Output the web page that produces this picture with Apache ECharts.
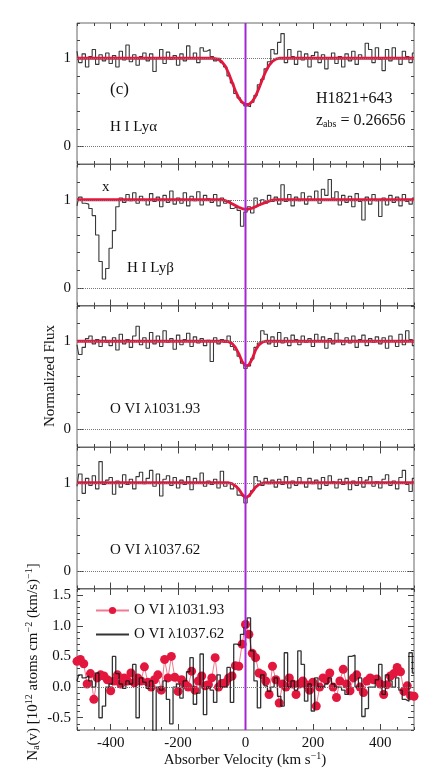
<!DOCTYPE html>
<html>
<head>
<meta charset="utf-8">
<script src="https://cdn.jsdelivr.net/npm/echarts@6/dist/echarts.min.js"></script>
<style>
  html, body { margin: 0; padding: 0; background: #fff; }
  #chart { width: 436px; height: 779px; }
</style>
</head>
<body>
<div id="chart"></div>
<script>
// velocity grid (km/s)
const velocity = [
  -500, -490, -480, -470, -460, -450, -440, -430, -420, -410,
  -400, -390, -380, -370, -360, -350, -340, -330, -320, -310,
  -300, -290, -280, -270, -260, -250, -240, -230, -220, -210,
  -200, -190, -180, -170, -160, -150, -140, -130, -120, -110,
  -100, -90, -80, -70, -60, -50, -40, -30, -20, -10,
  0, 10, 20, 30, 40, 50, 60, 70, 80, 90,
  100, 110, 120, 130, 140, 150, 160, 170, 180, 190,
  200, 210, 220, 230, 240, 250, 260, 270, 280, 290,
  300, 310, 320, 330, 340, 350, 360, 370, 380, 390,
  400, 410, 420, 430, 440, 450, 460, 470, 480, 490,
  500
]

// normalized flux, H I Lya
const fluxLya = [
  1.08, 0.95, 1.05, 0.90, 1.02, 1.10, 0.93, 1.04, 0.97, 1.06,
  0.94, 1.03, 0.90, 1.08, 0.98, 1.15, 0.96, 1.04, 0.92, 1.02,
  1.06, 0.97, 1.05, 0.85, 1.00, 1.10, 0.94, 1.07, 0.99, 1.03,
  0.92, 1.05, 0.97, 1.14, 1.00, 1.06, 0.95, 1.12, 1.08, 1.10,
  1.02, 0.97, 1.00, 0.95, 0.90, 0.80, 0.72, 0.60, 0.55, 0.50,
  0.46, 0.45, 0.50, 0.58, 0.70, 0.76, 0.88, 0.96, 1.10, 1.05,
  1.18, 1.28, 0.95, 1.10, 1.02, 0.93, 1.08, 0.98, 1.05, 0.90,
  1.03, 1.07, 0.95, 1.04, 0.88, 1.00, 1.06, 0.94, 1.02, 0.90,
  1.05, 0.97, 1.08, 0.93, 1.04, 1.00, 1.17, 1.10, 0.95, 1.12,
  0.99, 0.86, 1.10, 0.97, 1.12, 1.00, 0.93, 1.08, 1.02, 0.95,
  1.06
]

// normalized flux, H I Lyb
const fluxLyb = [
  0.93, 1.03, 0.96, 0.95, 0.90, 0.82, 0.60, 0.30, 0.10, 0.22,
  0.45, 0.65, 0.92, 1.02, 0.97, 1.06, 0.99, 1.08, 0.96, 1.04,
  1.00, 0.94, 1.07, 0.98, 1.03, 0.92, 1.05, 0.97, 1.10, 0.95,
  1.02, 0.96, 1.08, 0.93, 1.04, 0.99, 1.09, 0.94, 1.05, 1.01,
  0.97, 1.06, 0.93, 1.02, 0.96, 0.99, 0.90, 0.92, 0.88, 0.70,
  0.86, 0.92, 0.85, 1.02, 0.94, 1.00, 0.96, 1.05, 0.98, 1.03,
  0.95, 1.17, 0.98, 1.06, 0.93, 1.03, 0.99, 1.08, 0.95, 1.04,
  1.00, 1.10, 0.96, 1.12, 1.05, 1.23, 1.02, 1.09, 0.94, 1.05,
  0.97, 1.04, 0.92, 1.07, 0.98, 0.77, 1.03, 0.95, 1.06, 0.99,
  0.81, 1.02, 0.94, 1.05, 0.97, 1.03, 0.93, 1.06, 0.98, 0.95,
  1.02
]

// normalized flux, O VI 1031.93
const fluxO1031 = [
  0.96, 0.85, 0.93, 1.03, 1.06, 0.97, 1.02, 0.94, 1.05, 0.99,
  0.95, 1.04, 0.90, 1.08, 0.97, 1.02, 0.93, 1.06, 1.17, 0.96,
  1.04, 0.92, 1.10, 0.97, 1.06, 0.94, 1.12, 0.99, 1.03, 0.91,
  1.07, 0.96, 1.02, 1.09, 0.94, 1.05, 0.98, 1.03, 0.95, 1.01,
  0.77, 1.04, 0.97, 1.02, 0.99, 1.06, 0.94, 0.90, 0.83, 0.75,
  0.69, 0.72, 0.80, 0.93, 0.98, 1.12, 1.08, 0.97, 1.05, 0.94,
  1.10, 0.98, 1.04, 0.95, 1.07, 1.02, 0.96, 1.06, 0.99, 1.03,
  0.94, 1.08, 1.00, 1.05, 0.92, 1.03, 0.97, 1.09, 1.01, 0.96,
  1.04, 0.98, 1.06, 0.93, 1.02, 1.07, 0.95, 1.03, 0.99, 1.05,
  0.97, 1.04, 0.92, 1.06, 1.00, 0.94, 1.08, 0.96, 1.12, 1.02,
  0.95
]

// normalized flux, O VI 1037.62
const fluxO1037 = [
  0.96, 1.10, 0.88, 1.05, 0.97, 1.08, 0.93, 1.24, 0.98, 1.03,
  1.06, 0.87, 1.02, 0.95, 1.09, 0.98, 1.04, 0.93, 1.07, 1.12,
  0.99, 1.05, 1.14, 0.96, 1.10, 0.85, 1.04, 1.08, 0.97, 1.06,
  0.94, 1.03, 0.98, 1.07, 0.92, 1.05, 1.00, 1.11, 0.96, 1.02,
  0.98, 1.04, 0.94, 1.13, 0.96, 1.00, 0.93, 0.96, 0.86, 0.84,
  0.77, 0.85, 0.91, 1.07, 1.02, 0.97, 1.05, 0.99, 1.03, 0.95,
  1.04, 0.98, 1.07, 0.94, 1.02, 0.97, 1.06, 1.00, 0.95, 1.05,
  0.99, 1.03, 0.93, 1.06, 0.97, 1.08, 1.01, 0.94, 1.04, 0.98,
  1.05, 0.92, 1.02, 0.97, 1.06, 0.95, 1.03, 1.07, 0.96, 1.01,
  0.94, 1.04, 1.09, 0.97, 1.02, 0.93, 1.06, 1.14, 0.98, 0.90,
  1.05
]

// profile fits [velocity, flux]
const fitLya = [[-500, 1], [-100, 1], [-90, 0.995], [-80, 0.985], [-70, 0.96], [-60, 0.91], [-50, 0.83], [-40, 0.73], [-30, 0.63], [-20, 0.55], [-10, 0.5], [0, 0.475], [10, 0.475], [20, 0.51], [30, 0.57], [40, 0.66], [50, 0.76], [60, 0.85], [70, 0.92], [80, 0.965], [90, 0.99], [100, 1], [500, 1]]
const fitLyb = [[-500, 1], [-70, 1], [-60, 0.99], [-50, 0.975], [-40, 0.955], [-30, 0.935], [-20, 0.915], [-10, 0.9], [0, 0.89], [10, 0.895], [20, 0.905], [30, 0.92], [40, 0.94], [50, 0.955], [60, 0.97], [70, 0.985], [80, 0.995], [90, 1], [500, 1]]
const fitO1031 = [[-500, 1], [-60, 1], [-50, 0.995], [-40, 0.975], [-30, 0.93], [-20, 0.86], [-10, 0.77], [0, 0.72], [10, 0.73], [20, 0.8], [30, 0.9], [40, 0.96], [50, 0.99], [60, 1], [500, 1]]
const fitO1037 = [[-500, 1], [-50, 1], [-40, 0.99], [-30, 0.965], [-20, 0.93], [-10, 0.87], [0, 0.83], [10, 0.85], [20, 0.9], [30, 0.95], [40, 0.98], [50, 0.995], [60, 1], [500, 1]]

// apparent column density, 10^12 atoms cm^-2 (km/s)^-1
const naO1031 = [
  0.42, 0.45, 0.38, 0.05, 0.22, -0.20, 0.15, 0.20, 0.18, 0.12,
  -0.06, 0.10, 0.20, 0.05, 0.15, 0.10, 0.23, 0.07, 0.15, 0.10,
  0.33, 0.08, 0.00, 0.12, 0.20, -0.05, 0.45, 0.15, 0.50, 0.16,
  -0.07, 0.12, 0.05, 0.00, 0.26, -0.05, 0.10, 0.18, 0.02, 0.04,
  0.15, 0.48, 0.00, 0.06, 0.07, 0.15, 0.18, 0.35, 0.34, 0.70,
  1.02, 0.86, 0.55, 0.48, 0.23, 0.20, 0.10, -0.12, 0.34, 0.12,
  -0.26, 0.05, 0.00, 0.15, 0.05, -0.12, 0.05, 0.10, 0.04, -0.05,
  0.08, -0.31, 0.00, 0.15, 0.12, 0.23, 0.00, -0.17, 0.10, 0.29,
  0.05, -0.06, 0.15, 0.20, 0.00, -0.09, 0.10, 0.15, 0.12, 0.13,
  0.05, -0.12, 0.04, 0.18, 0.22, 0.32, 0.25, -0.07, 0.02, -0.14,
  -0.15
]
const naO1037 = [
  0.10, 0.20, 0.15, 0.18, 0.10, 0.00, 0.23, -0.50, -0.31, 0.00,
  0.05, 0.50, 0.22, 0.05, -0.02, 0.10, 0.05, 0.37, -0.50, 0.15,
  0.08, -0.02, 0.10, -0.72, 0.00, -0.05, 0.10, -0.20, -0.60, 0.00,
  0.05, -0.18, 0.10, 0.25, 0.48, -0.28, -0.10, 0.54, -0.45, 0.00,
  -0.05, -0.25, 0.20, 0.00, 0.00, 0.32, -0.25, 0.70, 0.68, 0.86,
  0.97, 1.13, 0.59, 0.10, -0.34, 0.20, 0.02, -0.07, 0.00, 0.15,
  -0.15, -0.31, 0.56, 0.00, 0.10, -0.05, 0.59, 0.37, -0.23, 0.05,
  -0.39, 0.15, 0.00, 0.00, 0.05, 0.15, 0.05, 0.00, 0.00, -0.05,
  -0.12, 0.50, 0.52, 0.00, 0.15, -0.48, -0.35, 0.00, 0.00, 0.12,
  0.37, -0.12, 0.20, 0.10, 0.00, 0.15, -0.05, -0.20, -0.23, 0.56,
  0.23
]

const xMajorTicks = [-400, -200, 0, 200, 400]
const fluxLabels = [0, 1]
const naLabels = [-0.5, 0, 0.5, 1, 1.5]

const FONT = 'Liberation Serif'
const tops = [23, 164.5, 306, 447.5, 589]
const panelH = 141
const tickStyle = { color: '#444', width: 1 }
const labelStyle = { fontFamily: FONT, fontSize: 15, color: '#111' }

const chart = echarts.init(document.getElementById('chart'), null, { renderer: 'canvas' })

const grid = tops.map(t => ({
  left: 77, right: 22, top: t, height: panelH,
  show: true, borderColor: '#666', borderWidth: 1
}))

const xAxis = []
const yAxis = []
const series = []

function addAxes(i, yMin, yMax, yStep, yMajor, yFmt) {
  const xBase = {
    gridIndex: i, type: 'value', min: -500, max: 500, interval: 50,
    splitLine: { show: false }, axisLine: { show: false, onZero: false }
  }
  ;['bottom', 'top'].forEach(pos => {
    xAxis.push(Object.assign({}, xBase, {
      position: pos,
      axisTick: { inside: true, length: 3, lineStyle: tickStyle },
      axisLabel: { show: false }
    }))
    xAxis.push(Object.assign({}, xBase, {
      position: pos,
      axisTick: { inside: true, length: 6, lineStyle: tickStyle, customValues: xMajorTicks },
      axisLabel: Object.assign({
        show: i === 4 && pos === 'bottom', customValues: xMajorTicks, margin: 6
      }, labelStyle)
    }))
  })
  const yBase = {
    gridIndex: i, type: 'value', min: yMin, max: yMax, interval: yStep,
    splitLine: { show: false }, axisLine: { show: false, onZero: false }
  }
  ;['left', 'right'].forEach(pos => {
    yAxis.push(Object.assign({}, yBase, {
      position: pos,
      axisTick: { inside: true, length: 3, lineStyle: tickStyle },
      axisLabel: { show: false }
    }))
    yAxis.push(Object.assign({}, yBase, {
      position: pos,
      axisTick: { inside: true, length: 6, lineStyle: tickStyle, customValues: yMajor },
      axisLabel: Object.assign({
        show: pos === 'left', customValues: yMajor, margin: 6, formatter: yFmt
      }, labelStyle)
    }))
  })
}

const dotted = { type: 'dotted', color: '#777', width: 1 }
const purple = '#a526d6'

function zeroLine(i, yMin, yMax) {
  return {
    type: 'line', xAxisIndex: 4 * i, yAxisIndex: 4 * i,
    data: [[0, yMin], [0, yMax]], symbol: 'none', silent: true, z: 10,
    lineStyle: { color: purple, width: 2 }
  }
}

const fluxPanels = [
  [fluxLya, fitLya],
  [fluxLyb, fitLyb],
  [fluxO1031, fitO1031],
  [fluxO1037, fitO1037]
]

fluxPanels.forEach(([flux, fit], i) => {
  addAxes(i, -0.2, 1.4, 0.2, fluxLabels, v => String(v))
  series.push({
    type: 'line', xAxisIndex: 4 * i, yAxisIndex: 4 * i,
    data: velocity.map((v, k) => [v, flux[k]]),
    step: 'middle', symbol: 'none', silent: true, z: 2,
    lineStyle: { color: '#383838', width: 1.1 },
    markLine: {
      silent: true, symbol: 'none', label: { show: false }, lineStyle: dotted,
      data: [{ yAxis: 0 }, { yAxis: 1 }]
    }
  })
  series.push({
    type: 'line', xAxisIndex: 4 * i, yAxisIndex: 4 * i,
    data: fit, symbol: 'none', silent: true, z: 4,
    lineStyle: { color: '#e3173e', width: 2.8 }
  })
  series.push(zeroLine(i, -0.2, 1.4))
})

addAxes(4, -0.7, 1.6, 0.1, naLabels, v => v.toFixed(1))
series.push({
  name: 'O VI λ1031.93',
  type: 'line', xAxisIndex: 16, yAxisIndex: 16,
  data: velocity.map((v, k) => [v, naO1031[k]]),
  symbol: 'circle', symbolSize: 9, z: 3,
  itemStyle: { color: '#e3173e' },
  lineStyle: { color: '#f07a90', width: 1 },
  markLine: {
    silent: true, symbol: 'none', label: { show: false }, lineStyle: dotted,
    data: [{ yAxis: 0 }]
  }
})
series.push({
  name: 'O VI λ1037.62',
  type: 'line', xAxisIndex: 16, yAxisIndex: 16,
  data: velocity.map((v, k) => [v, naO1037[k]]),
  step: 'middle', symbol: 'none', z: 4,
  itemStyle: { color: '#111' },
  lineStyle: { color: '#111', width: 1.3, opacity: 0.85 }
})
series.push(zeroLine(4, -0.7, 1.6))

const txt = { fontFamily: FONT, fontSize: 15, fill: '#111' }
function label(x, y, text, extra) {
  return { type: 'text', x: x, y: y, silent: true, style: Object.assign({ text: text, textVerticalAlign: 'middle' }, txt, extra || {}) }
}

const graphic = [
  label(110, 90, '(c)', { fontSize: 17 }),
  label(110, 127, 'H I Lyα'),
  label(316, 99, 'H1821+643', { fontSize: 16 }),
  label(316, 121, '{t|z}{s|abs}{t| = 0.26656}', {
    rich: {
      t: { fontFamily: FONT, fontSize: 16, fill: '#111' },
      s: { fontFamily: FONT, fontSize: 10, fill: '#111', padding: [7, 0, 0, 0] }
    }
  }),
  label(102, 187, 'x'),
  label(127, 268, 'H I Lyβ'),
  label(110, 409, 'O VI λ1031.93'),
  label(110, 550, 'O VI λ1037.62'),
  {
    type: 'text', x: 50, y: 376, rotation: Math.PI / 2, silent: true,
    style: Object.assign({ text: 'Normalized Flux', textAlign: 'center', textVerticalAlign: 'middle' }, txt)
  },
  {
    type: 'text', x: 33, y: 662, rotation: Math.PI / 2, silent: true,
    style: {
      text: '{t|N}{s|a}{t|(v) [10}{p|12}{t| atoms cm}{p|−2}{t| (km/s)}{p|−1}{t|]}',
      textAlign: 'center', textVerticalAlign: 'middle',
      rich: {
        t: { fontFamily: FONT, fontSize: 15, fill: '#111' },
        s: { fontFamily: FONT, fontSize: 10, fill: '#111', padding: [7, 0, 0, 0] },
        p: { fontFamily: FONT, fontSize: 10, fill: '#111', padding: [0, 0, 8, 0] }
      }
    }
  },
  {
    type: 'text', x: 245, y: 760, silent: true,
    style: {
      text: '{t|Absorber Velocity (km s}{p|−1}{t|)}',
      textAlign: 'center', textVerticalAlign: 'middle',
      rich: {
        t: { fontFamily: FONT, fontSize: 15, fill: '#111' },
        p: { fontFamily: FONT, fontSize: 10, fill: '#111', padding: [0, 0, 8, 0] }
      }
    }
  }
]

chart.setOption({
  animation: false,
  backgroundColor: '#fff',
  grid: grid,
  xAxis: xAxis,
  yAxis: yAxis,
  legend: {
    data: [
      { name: 'O VI λ1031.93' },
      { name: 'O VI λ1037.62', itemStyle: { opacity: 0 } }
    ],
    orient: 'vertical', left: 90, top: 598,
    itemWidth: 33, itemHeight: 9, itemGap: 9,
    textStyle: { fontFamily: FONT, fontSize: 15, color: '#111' }
  },
  graphic: graphic,
  series: series
})
</script>
</body>
</html>
